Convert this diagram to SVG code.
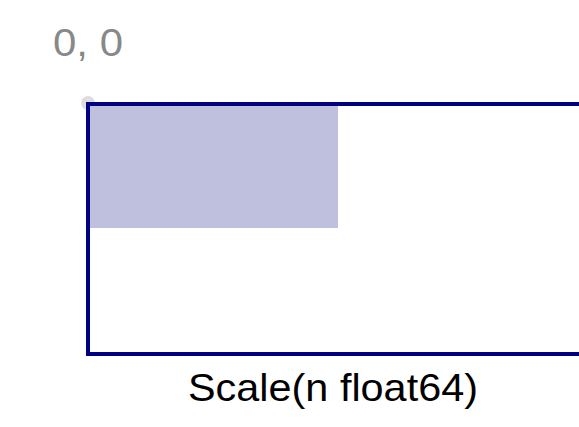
<svg xmlns="http://www.w3.org/2000/svg" width="579" height="427" viewBox="0 0 579 427">
<style>
.lbl{font-family:"Liberation Sans",Arial,sans-serif;font-size:39px}
</style>
<rect width="579" height="427" fill="#fff"/>
<g id="origin">
<circle cx="88" cy="103" r="7" fill="#dddddd"/>
<text class="lbl" x="53" y="56" fill="#888888" textLength="70" lengthAdjust="spacingAndGlyphs">0, 0</text>
</g>
<g id="frame">
<path d="M600,104 H88 V354 H600" fill="none" stroke="#000080" stroke-width="4"/>
</g>
<g id="scaled">
<rect x="90" y="106" width="248" height="122" fill="#bfc0de"/>
</g>
<g id="caption">
<text class="lbl" x="188" y="401" fill="#000" textLength="290" lengthAdjust="spacingAndGlyphs">Scale(n float64)</text>
</g>
</svg>
